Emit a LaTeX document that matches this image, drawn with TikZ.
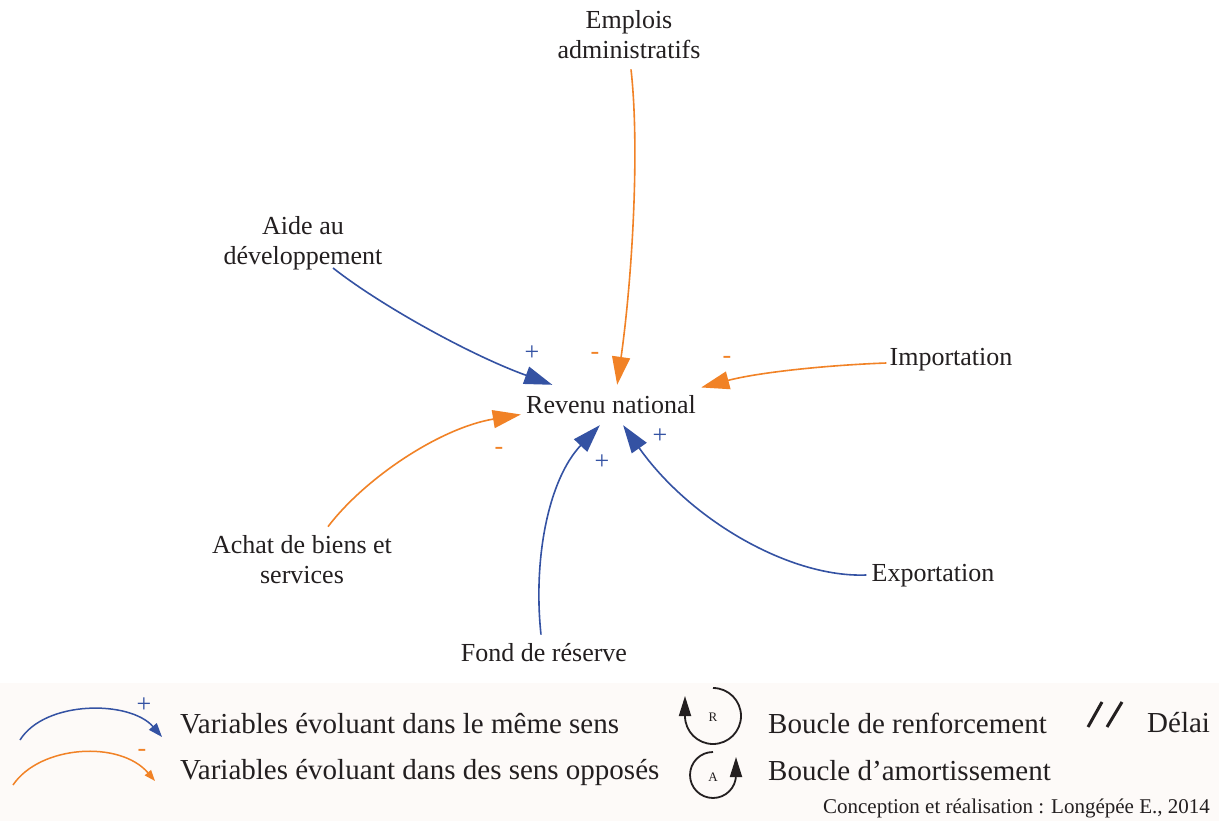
\documentclass[tikz,border=0pt]{standalone}
\usepackage{fontspec}
\setmainfont{Liberation Serif}
\usetikzlibrary{arrows.meta}
\definecolor{cblue}{RGB}{52,82,163}
\definecolor{corange}{RGB}{241,130,38}
\definecolor{ink}{RGB}{35,31,32}
\definecolor{legbg}{RGB}{253,250,248}
\begin{document}
\begin{tikzpicture}[x=1pt,y=-1pt,
  var/.style={font=\fontsize{26}{30}\selectfont, text=ink, align=center, inner sep=0pt},
  plusarrow/.style={draw=cblue, line width=1.6pt, -{Triangle[length=28pt,width=18pt]}},
  minusarrow/.style={draw=corange, line width=1.6pt, -{Triangle[length=28pt,width=18pt]}},
  sgnp/.style={text=cblue, font=\fontsize{26}{26}\selectfont, inner sep=0pt},
  sgnn/.style={text=corange, font=\fontsize{26}{26}\selectfont, inner sep=0pt},
  legtext/.style={font=\fontsize{29}{29}\selectfont, text=ink, anchor=base west, inner sep=0pt},
  looparrow/.style={draw=ink, line width=1.8pt, -{Triangle[length=20pt,width=12pt]}},
  loopletter/.style={font=\fontsize{13}{13}\selectfont, text=ink, inner sep=0pt}
]
\useasboundingbox (0,0) rectangle (1219,821);
\fill[white] (0,0) rectangle (1219,683);
\fill[legbg] (0,683) rectangle (1219,821);

% variables
\node[var] (emp) at (629,35) {Emplois\\administratifs};
\node[var] (aide) at (303,243) {Aide au\\développement};
\node[var] (imp) at (951,360) {Importation};
\node[var, minimum width=180pt, minimum height=40pt] (rev) at (611,405) {Revenu national};
\node[var] (achat) at (302,560) {Achat de biens et\\services};
\node[var] (fond) at (544,653) {Fond de réserve};
\node[var] (exp) at (933,576) {Exportation};

% connectors
\draw[minusarrow] ([xshift=2pt,yshift=-10pt]emp.south) .. controls (640,150) and (632,280) .. (rev.73);
\draw[plusarrow] ([xshift=30pt,yshift=2pt]aide.south) .. controls (380,305) and (470,355) .. (rev.161);
\draw[minusarrow] ([xshift=-3pt,yshift=-3pt]imp.west) .. controls (830,365) and (760,372) .. (rev.11);
\draw[minusarrow] ([xshift=26pt,yshift=9pt]achat.north) .. controls (365,478) and (440,428) .. (rev.186);
\draw[plusarrow] ([xshift=-3pt,yshift=9pt]fond.north) .. controls (533,560) and (548,480) .. (rev.241);
\draw[plusarrow] ([xshift=-5pt,yshift=1pt]exp.west) .. controls (790,578) and (690,520) .. (rev.301);

% signs
\node[sgnp] (s1) at (532,353) {+};
\node[sgnn] (s2) at (595,356) {-};
\node[sgnn] (s3) at (727,360) {-};
\node[sgnn] (s4) at (499,451) {-};
\node[sgnp] (s5) at (602,462) {+};
\node[sgnp] (s6) at (660,436) {+};

% legend
\coordinate (lb1) at (20,740);
\coordinate (lb2) at (162,737);
\draw[cblue, line width=1.5pt, -{Triangle[length=14pt,width=10pt]}] (lb1) .. controls (45,700) and (130,700) .. (lb2);
\node[sgnp] (lp) at (144,705) {+};
\coordinate (lo1) at (13,785);
\coordinate (lo2) at (155,781);
\draw[corange, line width=1.5pt, -{Triangle[length=11pt,width=8pt]}] (lo1) .. controls (40,745) and (120,740) .. (lo2);
\node[sgnn] (lm) at (142,753) {-};
\node[legtext] (lt1) at (180,733) {Variables évoluant dans le même sens};
\node[legtext] (lt2) at (180,779) {Variables évoluant dans des sens opposés};

\coordinate (rtop) at (713,688);
\draw[looparrow] (rtop) arc[start angle=-90, end angle=180, radius=28] -- ++(0,-20);
\node[loopletter] (rl) at (713,717) {R};
\coordinate (atop) at (713,752);
\draw[looparrow] (atop) arc[start angle=-90, end angle=-360, radius=23] -- ++(0,-18);
\node[loopletter] (al) at (713,777) {A};
\node[legtext] (lt3) at (768,733) {Boucle de renforcement};
\node[legtext] (lt4) at (768,780) {Boucle d’amortissement};

\draw[ink, line width=3pt] (1088,727) -- (1102,702);
\draw[ink, line width=3pt] (1107,727) -- (1122,702);
\node[legtext] (lt5) at (1147,732) {Délai};

\node[font=\fontsize{21}{21}\selectfont, text=ink, anchor=base east, inner sep=0pt] (foot) at (1210,813) {Conception et réalisation : Longépée E., 2014};
\end{tikzpicture}
\end{document}
